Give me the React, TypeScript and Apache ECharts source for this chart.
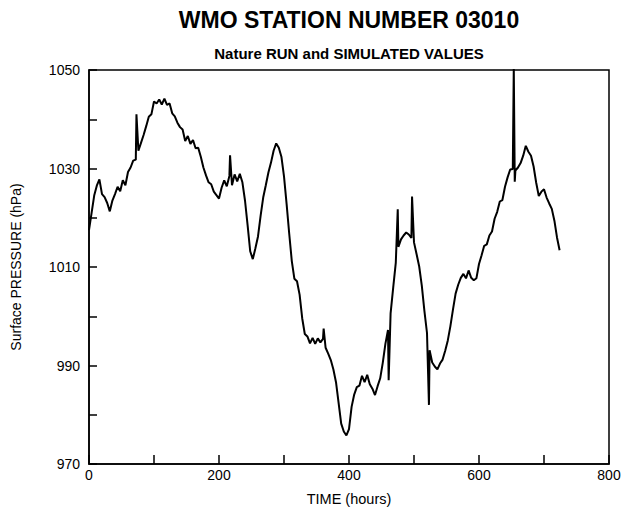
import React, { useEffect, useRef } from "react";
import * as echarts from "echarts";

// Surface pressure at WMO station 03010, sampled every 4 hours.
const TITLE = "WMO STATION NUMBER 03010";
const SUBTITLE = "Nature RUN and SIMULATED VALUES";
const X_NAME = "TIME (hours)";
const Y_NAME = "Surface PRESSURE (hPa)";

const SAMPLE_STEP_HOURS = 4;

// hPa, one value per 4-hour step starting at hour 0
const PRESSURE: number[] = [
  1017.5, 1021.0, 1024.5, 1026.5, 1027.8, 1024.8, 1024.2, 1023.0, 1021.3, 1023.5,
  1024.8, 1026.3, 1025.4, 1027.6, 1026.6, 1029.3, 1030.2, 1031.6, 1031.8, 1033.6,
  1035.2, 1036.8, 1038.6, 1040.5, 1041.0, 1043.6, 1043.2, 1044.0, 1043.0, 1044.2,
  1042.9, 1043.2, 1041.2, 1040.6, 1039.3, 1038.4, 1037.9, 1035.6, 1036.6, 1035.0,
  1035.8, 1034.1, 1034.2, 1032.4, 1030.2, 1028.6, 1027.2, 1026.8, 1025.3, 1024.6,
  1023.9, 1026.1, 1027.6, 1026.4, 1028.5, 1026.6, 1028.8, 1027.4, 1028.9, 1027.2,
  1023.5, 1018.5, 1013.2, 1011.6, 1013.8, 1016.2, 1020.4, 1024.1, 1026.6, 1029.2,
  1031.2, 1033.6, 1035.1, 1034.2, 1032.4, 1028.4, 1022.8, 1016.8, 1011.2, 1007.6,
  1007.1, 1004.4, 999.6, 996.4, 995.9, 994.5, 995.6, 994.4, 995.5, 994.7,
  995.4, 993.6, 992.4, 991.1, 989.2, 986.6, 982.4, 978.2, 976.6, 975.8,
  977.1, 981.6, 984.1, 985.6, 985.9, 987.9, 986.6, 988.1, 986.2, 985.3,
  984.0, 985.8, 987.4, 990.6, 994.4, 997.2, 1000.6, 1005.8, 1010.9, 1014.1,
  1015.6, 1016.4, 1017.0, 1016.6, 1015.9, 1015.0, 1012.6, 1010.1, 1006.2, 1001.1,
  996.6, 993.1, 990.6, 989.8, 989.2, 990.4, 991.2, 993.0, 995.1, 998.0,
  1001.4, 1004.6, 1006.4, 1007.8, 1008.6, 1007.7, 1009.3, 1007.8, 1007.3, 1007.7,
  1010.6, 1012.4, 1014.3, 1014.6, 1016.4, 1017.2, 1019.8, 1021.2, 1023.3, 1023.6,
  1026.3, 1028.2, 1029.8, 1029.9, 1029.6, 1030.2, 1031.1, 1032.6, 1034.6, 1033.4,
  1032.6, 1030.4, 1027.1, 1024.4, 1025.3, 1025.8, 1024.1, 1022.9, 1021.8, 1019.4,
  1016.0, 1013.4,
];

// Isolated simulated readings that jump away from the run: [hour, hPa]
const SPIKES: [number, number][] = [
  [73, 1041.0],
  [217, 1032.7],
  [361, 997.5],
  [461, 987.0],
  [475, 1021.7],
  [497, 1024.3],
  [523, 982.0],
  [653.5, 1050.5],
  [655, 1027.3],
];

const X_MIN = 0;
const X_MAX = 800;
const X_TICK = 100;
const X_LABEL_EVERY = 200;
const Y_MIN = 970;
const Y_MAX = 1050;
const Y_TICK = 10;
const Y_LABEL_EVERY = 20;

const FONT = "'Liberation Sans', Arial, Helvetica, sans-serif";

function buildSeries(): [number, number][] {
  const pts: [number, number][] = PRESSURE.map((v, i) => [i * SAMPLE_STEP_HOURS, v]);
  SPIKES.forEach((s) => pts.push([s[0], s[1]]));
  pts.sort((a, b) => a[0] - b[0]);
  return pts;
}

export default function App() {
  const ref = useRef<HTMLDivElement>(null);

  useEffect(() => {
    if (!ref.current) return;
    const chart = echarts.init(ref.current, undefined, { renderer: "svg" });
    const gridLeft = 89;
    const gridRight = 20;
    const centerX = gridLeft + (629 - gridLeft - gridRight) / 2;

    chart.setOption({
      animation: false,
      backgroundColor: "#fff",
      grid: {
        left: gridLeft,
        right: gridRight,
        top: 70,
        bottom: 41,
        show: true,
        borderColor: "#000",
        borderWidth: 1.5,
        backgroundColor: "transparent",
      },
      graphic: [
        {
          type: "text",
          x: centerX,
          y: 20,
          style: {
            text: TITLE,
            font: `bold 23px ${FONT}`,
            fill: "#000",
            textAlign: "center",
            textVerticalAlign: "middle",
          },
        },
        {
          type: "text",
          x: centerX,
          y: 53,
          style: {
            text: SUBTITLE,
            font: `bold 15px ${FONT}`,
            fill: "#000",
            textAlign: "center",
            textVerticalAlign: "middle",
          },
        },
      ],
      xAxis: {
        type: "value",
        min: X_MIN,
        max: X_MAX,
        interval: X_TICK,
        name: X_NAME,
        nameLocation: "middle",
        nameGap: 27,
        nameTextStyle: { color: "#000", fontSize: 14.5, fontFamily: FONT },
        axisLine: { lineStyle: { color: "#000", width: 1.5 } },
        axisTick: { inside: true, length: 9, lineStyle: { color: "#000", width: 1.5 } },
        axisLabel: {
          color: "#000",
          fontSize: 14,
          fontFamily: FONT,
          margin: 4,
          formatter: (v: number) => (v % X_LABEL_EVERY === 0 ? String(v) : ""),
        },
        splitLine: { show: false },
      },
      yAxis: {
        type: "value",
        min: Y_MIN,
        max: Y_MAX,
        interval: Y_TICK,
        name: Y_NAME,
        nameLocation: "middle",
        nameRotate: 90,
        nameGap: 66,
        nameTextStyle: { color: "#000", fontSize: 14, fontFamily: FONT },
        axisLine: { lineStyle: { color: "#000", width: 1.5 } },
        axisTick: { inside: true, length: 8, lineStyle: { color: "#000", width: 1.5 } },
        axisLabel: {
          color: "#000",
          fontSize: 14,
          fontFamily: FONT,
          margin: 9,
          formatter: (v: number) => ((v - Y_MIN) % Y_LABEL_EVERY === 0 ? String(v) : ""),
        },
        splitLine: { show: false },
      },
      series: [
        {
          type: "line",
          name: "Surface pressure",
          data: buildSeries(),
          showSymbol: false,
          symbol: "none",
          clip: true,
          lineStyle: { color: "#000", width: 2 },
        },
      ],
    });
    return () => chart.dispose();
  }, []);

  return (
    <div
      ref={ref}
      style={{ position: "fixed", left: 0, top: 0, width: 629, height: 511, background: "#fff" }}
    />
  );
}
